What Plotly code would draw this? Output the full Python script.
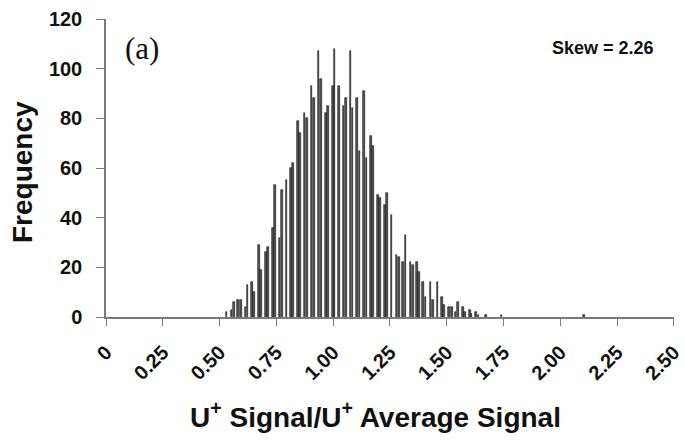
import plotly.graph_objects as go

# Bin positions (U+ Signal / U+ Average Signal) and frequencies
bin_pos = [0.530, 0.552, 0.562, 0.581, 0.593, 0.614, 0.623, 0.643, 0.650, 0.672,
           0.682, 0.703, 0.713, 0.734, 0.744, 0.764, 0.775, 0.794, 0.813, 0.823,
           0.845, 0.854, 0.874, 0.884, 0.905, 0.915, 0.935, 0.945, 0.968, 0.977,
           0.999, 1.006, 1.025, 1.046, 1.056, 1.076, 1.085, 1.105, 1.116, 1.137,
           1.147, 1.166, 1.175, 1.197, 1.206, 1.227, 1.236, 1.257, 1.279, 1.289,
           1.309, 1.318, 1.340, 1.350, 1.370, 1.377, 1.396, 1.406, 1.428, 1.438,
           1.459, 1.479, 1.488, 1.510, 1.522, 1.539, 1.550, 1.572, 1.580, 1.601,
           1.609, 1.630, 1.640, 1.673, 1.741, 2.105]
frequency = [2, 3, 6, 7, 7, 4, 13, 14, 10, 29,
             19, 26, 28, 36, 53, 32, 51, 55, 60, 62,
             79, 74, 82, 80, 93, 88, 107, 96, 82, 85,
             93, 108, 93, 85, 88, 107, 84, 88, 67, 91,
             64, 73, 69, 49, 48, 45, 50, 41, 25, 24,
             22, 33, 22, 21, 22, 18, 14, 8, 14, 7,
             14, 8, 5, 4, 4, 2, 6, 4, 2, 3,
             1.3, 2, 1, 1, 1, 1]

x_tickvals = [0, 0.25, 0.5, 0.75, 1.0, 1.25, 1.5, 1.75, 2.0, 2.25, 2.5]
x_ticktext = ["0", "0.25", "0.50", "0.75", "1.00", "1.25", "1.50", "1.75", "2.00", "2.25", "2.50"]
y_tickvals = [0, 20, 40, 60, 80, 100, 120]

W, H = 685, 445
L, R, T, B = 106, 11, 19, 128

fig = go.Figure()
fig.add_trace(go.Bar(
    x=bin_pos, y=frequency, width=0.0075,
    marker=dict(color="#555555", line=dict(color="#111111", width=0.6)),
    showlegend=False,
))

axis_color = "#7a7a7a"
tick_font = dict(size=20, family="Liberation Sans, Arial, sans-serif", weight="bold", color="#111111")
fig.update_layout(
    width=W, height=H,
    margin=dict(l=L, r=R, t=T, b=B, pad=0, autoexpand=False),
    paper_bgcolor="white", plot_bgcolor="white",
    font=dict(family="Liberation Sans, Arial, sans-serif", color="#111111"),
    bargap=0,
    xaxis=dict(
        range=[0, 2.5005], tickmode="array", tickvals=x_tickvals, ticktext=x_ticktext,
        tickangle=-45, ticks="outside", ticklen=7, tickwidth=1.2, tickcolor=axis_color,
        showline=True, linecolor=axis_color, linewidth=1.5, showgrid=False, zeroline=False,
        ticklabeloverflow="allow", ticklabelstandoff=7, automargin=False,
        tickfont=tick_font,
    ),
    yaxis=dict(
        range=[0, 120], tickmode="array", tickvals=y_tickvals,
        ticks="outside", ticklen=8, tickwidth=1.2, tickcolor=axis_color,
        showline=True, linecolor=axis_color, linewidth=1.5, showgrid=False, zeroline=False,
        ticklabelstandoff=10, automargin=False,
        tickfont=dict(size=20, family="Liberation Sans, Arial, sans-serif", weight="bold", color="#111111"),
    ),
)

pw = W - L - R
ph = H - T - B

def px_to_paper_x(px):
    return (px - L) / pw

def px_to_paper_y(py):
    return (H - B - py) / ph

fig.add_annotation(
    text="Frequency", textangle=-90, showarrow=False,
    xref="paper", yref="paper", x=px_to_paper_x(22), y=px_to_paper_y(172),
    xanchor="center", yanchor="middle",
    font=dict(size=28, family="Liberation Sans, Arial, sans-serif", weight="bold", color="#111111"),
)
fig.add_annotation(
    text="U<sup>+</sup> Signal/U<sup>+</sup> Average Signal", showarrow=False,
    xref="paper", yref="paper", x=px_to_paper_x(375), y=px_to_paper_y(415),
    xanchor="center", yanchor="middle",
    font=dict(size=28, family="Liberation Sans, Arial, sans-serif", weight="bold", color="#111111"),
)
fig.add_annotation(
    text="(a)", showarrow=False,
    xref="paper", yref="paper", x=px_to_paper_x(142), y=px_to_paper_y(49),
    xanchor="center", yanchor="middle",
    font=dict(size=31, family="Liberation Serif, Times New Roman, serif", color="#111111"),
)
fig.add_annotation(
    text="Skew = 2.26", showarrow=False,
    xref="paper", yref="paper", x=px_to_paper_x(656), y=px_to_paper_y(48),
    xanchor="right", yanchor="middle",
    font=dict(size=18, family="Liberation Sans, Arial, sans-serif", weight="bold", color="#111111"),
)

fig.write_html("out.html")
